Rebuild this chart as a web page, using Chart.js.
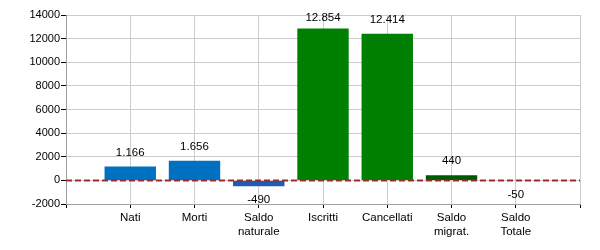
<!DOCTYPE html>
<html>
<head>
<meta charset="utf-8">
<script src="https://cdn.jsdelivr.net/npm/chart.js@4/dist/chart.umd.min.js"></script>
<style>
html,body{margin:0;padding:0;background:#fff;}
#wrap{width:600px;height:250px;}
</style>
</head>
<body>
<div id="wrap"><canvas id="c" width="600" height="250"></canvas></div>
<script>
const categories = ['', 'Nati', 'Morti', ['Saldo', 'naturale'], 'Iscritti', 'Cancellati', ['Saldo', 'migrat.'], ['Saldo', 'Totale'], ''];
const values = [null, 1166, 1656, -490, 12854, 12414, 440, -50, null];
const barColors = ['#0070C0', '#0070C0', '#0070C0', '#1F5BAF', '#008000', '#008000', '#005800', '#1F5BAF', '#008000'];
const yMin = -2000, yMax = 14000, yStep = 2000;

function fmt(v) {
  const s = Math.abs(v).toString().replace(/\B(?=(\d{3})+(?!\d))/g, '.');
  return (v < 0 ? '-' : '') + s;
}

const valueLabels = {
  id: 'valueLabels',
  afterDatasetsDraw(chart) {
    const ctx = chart.ctx;
    const meta = chart.getDatasetMeta(0);
    const area = chart.chartArea;
    ctx.save();
    ctx.font = '11.5px "Liberation Sans", Arial, sans-serif';
    ctx.fillStyle = '#000';
    ctx.textAlign = 'center';
    ctx.textBaseline = 'middle';
    meta.data.forEach((bar, i) => {
      const v = values[i];
      if (v === null || v === undefined) return;
      let y;
      if (v >= 0) {
        y = Math.max(bar.y - 14, area.top + 3);
      } else {
        y = bar.y + 14;
      }
      ctx.fillText(fmt(v), bar.x, y);
    });
    ctx.restore();
  }
};

const zeroLine = {
  id: 'zeroLine',
  afterDatasetsDraw(chart) {
    const ctx = chart.ctx;
    const y = Math.round(chart.scales.y.getPixelForValue(0)) + 0.5;
    const a = chart.chartArea;
    ctx.save();
    ctx.strokeStyle = '#9E2A2F';
    ctx.lineWidth = 2;
    ctx.setLineDash([6, 3]);
    ctx.beginPath();
    ctx.moveTo(a.left, y);
    ctx.lineTo(a.right, y);
    ctx.stroke();
    ctx.restore();
  }
};

new Chart(document.getElementById('c'), {
  type: 'bar',
  data: {
    labels: categories,
    datasets: [{
      data: values,
      backgroundColor: barColors,
      borderWidth: 0,
      barPercentage: 0.8,
      categoryPercentage: 1.0
    }]
  },
  options: {
    responsive: false,
    animation: false,
    events: [],
    layout: { padding: { top: 15, right: 20, bottom: 0, left: 0 } },
    plugins: { legend: { display: false }, tooltip: { enabled: false } },
    scales: {
      x: {
        offset: false,
        grid: { offset: false, color: '#cccccc', tickColor: '#000', tickLength: 4, drawOnChartArea: true },
        border: { color: '#a0a0a0' },
        ticks: {
          color: '#000',
          font: { size: 11.5, family: '"Liberation Sans", Arial, sans-serif' },
          padding: 3,
          maxRotation: 0,
          autoSkip: false
        },
        afterFit(s) { s.height = 46; }
      },
      y: {
        min: yMin, max: yMax,
        grid: { color: '#cccccc', tickColor: '#000', tickLength: 5 },
        border: { color: '#a0a0a0' },
        ticks: {
          stepSize: yStep,
          color: '#000',
          font: { size: 11, family: '"Liberation Sans", Arial, sans-serif' },
          padding: 1,
          callback: v => v.toString()
        },
        afterFit(s) { s.width = 66; }
      }
    }
  },
  plugins: [valueLabels, zeroLine]
});
</script>
</body>
</html>
